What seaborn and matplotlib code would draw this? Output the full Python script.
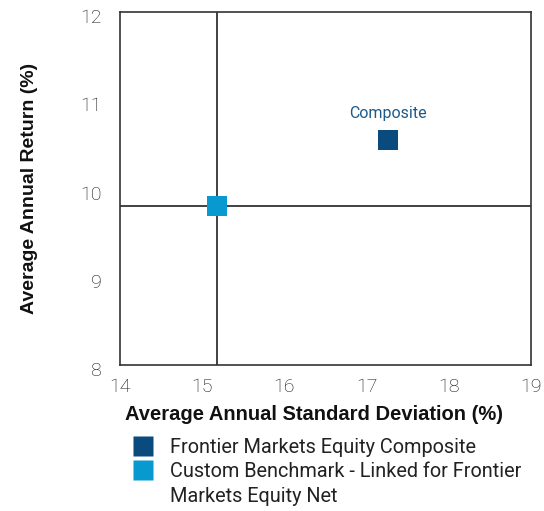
import pandas as pd
import matplotlib
matplotlib.use("Agg")
import matplotlib.pyplot as plt
import matplotlib.transforms as mtransforms
from matplotlib.lines import Line2D
import seaborn as sns

# data
series = ["Frontier Markets Equity Composite",
          "Custom Benchmark - Linked for Frontier\nMarkets Equity Net"]
std_dev = [17.26, 15.18]
avg_return = [10.55, 9.80]
colors = ["#0b4a7c", "#0799cf"]
x_ticks = [14, 15, 16, 17, 18, 19]
y_ticks = [8, 9, 10, 11, 12]

df = pd.DataFrame({"Series": series, "StdDev": std_dev, "Return": avg_return})

sns.set_style("white")
plt.rcParams["font.family"] = ["Roboto", "DejaVu Sans"]

fig = plt.figure(figsize=(5.44, 5.11), dpi=100)
ax = fig.add_axes([0.2206, 0.2857, 0.7555, 0.6908])

# crosshair through the benchmark
ax.axvline(std_dev[1], color="#333333", lw=1.3, zorder=1)
ax.axhline(avg_return[1], color="#333333", lw=1.3, zorder=1)

sns.scatterplot(data=df, x="StdDev", y="Return", hue="Series",
                palette=colors, marker="s", s=210, edgecolor="none",
                ax=ax, zorder=3, legend=False)

ax.annotate("Composite", (std_dev[0], avg_return[0]), xytext=(0, 19),
            textcoords="offset points", ha="center", va="center",
            color="#1d5a8c", fontsize=11.5)

ax.set_xlim(14, 19)
ax.set_ylim(8, 12)
ax.set_xticks(x_ticks)
ax.set_yticks(y_ticks)
ax.tick_params(length=0, labelsize=14, labelcolor="#111111")
ax.tick_params(axis="x", pad=9.5)
ax.tick_params(axis="y", pad=13.5)
shift = mtransforms.ScaledTranslation(0, -4 / 100, fig.dpi_scale_trans)
for lbl in ax.get_xticklabels() + ax.get_yticklabels():
    lbl.set_fontweight("light")
for lbl in ax.get_yticklabels():
    lbl.set_transform(lbl.get_transform() + shift)
for sp in ax.spines.values():
    sp.set_color("#333333")
    sp.set_linewidth(1.2)

ax.set_xlabel("Average Annual Standard Deviation (%)", fontsize=14.5,
              fontweight="bold", color="#111111",
              family=["Liberation Sans", "DejaVu Sans"])
ax.set_ylabel("Average Annual Return (%)", fontsize=14,
              fontweight="bold", color="#111111",
              family=["Liberation Sans", "DejaVu Sans"])
ax.xaxis.set_label_coords(0.471, -0.113)
ax.yaxis.set_label_coords(-0.1995, 0.5)

# legend: wrapped second label keeps its square on the first line
handles, labels = [], []
for name, col in zip(series, colors):
    lines = name.split("\n")
    handles.append(Line2D([], [], ls="none", marker="s", markersize=14.5,
                          markerfacecolor=col, markeredgecolor="none"))
    labels.append(lines[0])
    for extra in lines[1:]:
        handles.append(Line2D([], [], ls="none"))
        labels.append(extra)
leg = fig.legend(handles, labels, loc="upper left",
                 bbox_to_anchor=(133 / 544, 1 - 438 / 511),
                 frameon=False, handlelength=1.0, handletextpad=0.86,
                 labelspacing=0.27, borderpad=0, borderaxespad=0,
                 prop={"size": 14.3})
for t in leg.get_texts():
    t.set_color("#222222")

fig.savefig("out.png", dpi=100)
